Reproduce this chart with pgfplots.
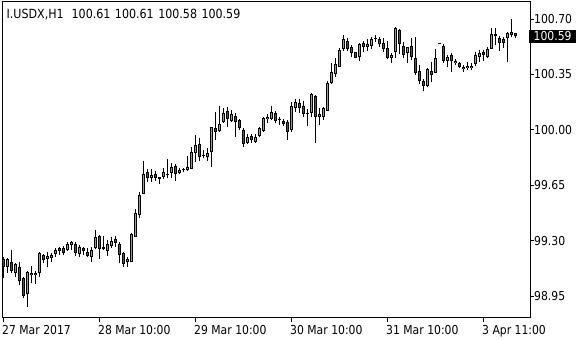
\documentclass[border=0pt]{standalone}
\usepackage{fontspec}
\setmainfont{DejaVu Sans}[FakeStretch=0.88]
\usepackage{pgfplots}
\usepackage{pgfplotstable}
\pgfplotsset{compat=1.18}
\definecolor{upc}{RGB}{40,230,40}
\definecolor{dnc}{RGB}{225,20,20}
\pgfplotstableread{
i o h l c
1 99.182 99.198 99.062 99.131
2 99.135 99.192 99.094 99.182
3 99.167 99.241 99.094 99.110
4 99.097 99.157 99.072 99.150
5 99.135 99.163 99.020 99.047
6 99.062 99.072 98.936 98.952
7 98.961 99.110 98.883 99.100
8 99.094 99.140 99.030 99.081
9 99.094 99.110 99.026 99.081
10 99.094 99.230 99.072 99.220
11 99.209 99.215 99.157 99.178
12 99.186 99.230 99.135 99.203
13 99.188 99.220 99.167 99.209
14 99.215 99.251 99.198 99.241
15 99.251 99.262 99.209 99.234
16 99.251 99.268 99.209 99.224
17 99.241 99.293 99.236 99.279
18 99.270 99.298 99.241 99.289
19 99.279 99.293 99.203 99.224
20 99.215 99.272 99.198 99.262
21 99.251 99.262 99.209 99.236
22 99.230 99.251 99.195 99.203
23 99.198 99.262 99.167 99.241
24 99.251 99.367 99.245 99.325
25 99.329 99.336 99.182 99.247
26 99.262 99.329 99.241 99.249
27 99.236 99.304 99.203 99.279
28 99.268 99.321 99.251 99.300
29 99.308 99.329 99.262 99.287
30 99.279 99.293 99.157 99.209
31 99.220 99.230 99.131 99.150
32 99.163 99.198 99.135 99.182
33 99.167 99.346 99.165 99.340
34 99.325 99.498 99.325 99.476
35 99.464 99.609 99.445 99.588
36 99.593 99.803 99.593 99.721
37 99.732 99.751 99.672 99.694
38 99.697 99.751 99.672 99.715
39 99.721 99.740 99.677 99.694
40 99.691 99.700 99.656 99.700
41 99.700 99.761 99.687 99.732
42 99.717 99.814 99.694 99.723
43 99.729 99.788 99.694 99.763
44 99.771 99.782 99.679 99.719
45 99.729 99.757 99.721 99.746
46 99.748 99.759 99.735 99.754
47 99.746 99.835 99.742 99.767
48 99.751 99.891 99.751 99.858
49 99.852 99.967 99.799 99.904
50 99.910 99.946 99.803 99.830
51 99.842 99.872 99.820 99.836
52 99.830 99.887 99.803 99.855
53 99.858 100.016 99.767 100.016
54 100.010 100.114 99.936 99.988
55 99.994 100.150 99.984 100.037
56 100.047 100.136 100.041 100.104
57 100.119 100.146 100.020 100.066
58 100.058 100.125 100.051 100.098
59 100.087 100.104 99.956 100.047
60 100.060 100.068 99.999 100.010
61 99.999 100.010 99.890 99.910
62 99.919 99.972 99.910 99.956
63 99.963 99.972 99.919 99.936
64 99.925 99.972 99.919 99.956
65 99.963 100.020 99.956 100.010
66 99.994 100.083 99.988 100.077
67 100.066 100.100 100.041 100.083
68 100.066 100.150 100.062 100.114
69 100.104 100.121 100.041 100.058
70 100.068 100.079 100.030 100.062
71 100.058 100.066 100.024 100.035
72 100.047 100.062 99.936 99.988
73 99.999 100.178 99.988 100.150
74 100.136 100.193 100.114 100.178
75 100.171 100.193 100.108 100.136
76 100.150 100.179 100.083 100.098
77 100.108 100.130 100.024 100.102
78 100.109 100.234 100.083 100.226
79 100.214 100.220 99.919 100.083
80 100.081 100.136 100.030 100.100
81 100.083 100.144 100.062 100.136
82 100.121 100.308 100.121 100.298
83 100.298 100.424 100.289 100.367
84 100.351 100.452 100.335 100.416
85 100.399 100.515 100.399 100.504
86 100.509 100.599 100.500 100.572
87 100.561 100.578 100.500 100.509
88 100.521 100.536 100.462 100.483
89 100.490 100.493 100.452 100.452
90 100.458 100.550 100.437 100.540
91 100.550 100.563 100.490 100.521
92 100.525 100.572 100.500 100.542
93 100.529 100.584 100.509 100.572
94 100.576 100.599 100.557 100.582
95 100.572 100.584 100.521 100.540
96 100.550 100.578 100.490 100.509
97 100.519 100.563 100.445 100.456
98 100.452 100.487 100.424 100.473
99 100.490 100.648 100.452 100.641
100 100.630 100.635 100.479 100.542
101 100.529 100.557 100.452 100.473
102 100.483 100.525 100.420 100.521
103 100.529 100.578 100.441 100.458
104 100.452 100.584 100.346 100.361
105 100.373 100.409 100.289 100.310
106 100.308 100.319 100.245 100.275
107 100.279 100.389 100.272 100.382
108 100.371 100.430 100.300 100.346
109 100.361 100.510 100.357 100.452
110 100.541 100.547 100.541 100.547
111 100.529 100.542 100.424 100.437
112 100.435 100.473 100.399 100.462
113 100.473 100.487 100.367 100.435
114 100.420 100.445 100.409 100.437
115 100.424 100.430 100.389 100.399
116 100.399 100.409 100.367 100.384
117 100.389 100.430 100.378 100.403
118 100.389 100.420 100.378 100.403
119 100.414 100.493 100.403 100.473
120 100.458 100.504 100.430 100.487
121 100.493 100.504 100.435 100.473
122 100.458 100.525 100.452 100.509
123 100.510 100.641 100.509 100.605
124 100.605 100.641 100.536 100.593
125 100.578 100.593 100.498 100.550
126 100.572 100.588 100.519 100.550
127 100.578 100.620 100.430 100.613
128 100.620 100.698 100.588 100.599
129 100.610 100.612 100.580 100.590
}\ohlc
\pgfplotsset{
  candle/.style={draw=none, mark=none, forget plot,
    error bars/.cd, y dir=plus, y explicit, error mark=none,
    error bar style={#1}},
}
\begin{document}
\fontsize{12.3bp}{14bp}\selectfont
\begin{tikzpicture}
\useasboundingbox (0,0) rectangle (580bp,340bp);
\begin{axis}[
  at={(2bp,22.5bp)}, anchor=south west,
  scale only axis, width=528bp, height=316bp,
  xmin=0.625, xmax=132.625, ymin=98.8143, ymax=100.8106,
  clip=false,
  axis line style={black, line width=1bp},
  xtick={1,25,49,73,97,121},
  xticklabels={27 Mar 2017,28 Mar 10:00,29 Mar 10:00,30 Mar 10:00,31 Mar 10:00,3 Apr 11:00},
  ytick={98.95,99.30,99.65,100.00,100.35,100.70},
  yticklabels={98.95,99.30,99.65,100.00,100.35,100.70},
  xtick pos=left, ytick pos=right, yticklabel pos=right,
  tick align=outside, major tick length=4bp,
  tick style={black, line width=1bp},
  xticklabel style={anchor=north west, inner sep=0pt, xshift=-1.5bp, yshift=-3.5bp},
  yticklabel style={anchor=west, inner sep=0pt},
]
% wicks
\addplot[candle={draw=black, line width=1bp, solid}]
  table[x=i, y=l, y error plus expr={\thisrow{h}-\thisrow{l}}] {\ohlc};
% body outlines
\addplot[candle={draw=black, line width=3bp, solid}]
  table[x=i, y expr={min(\thisrow{o},\thisrow{c})}, y error plus expr={abs(\thisrow{c}-\thisrow{o})}] {\ohlc};
% bull fill
\addplot[restrict expr to domain={\thisrow{c}-\thisrow{o}}{0.013:5},
  candle={draw=upc, line width=1bp, solid, shorten <=1bp, shorten >=1bp}]
  table[x=i, y=o, y error plus expr={\thisrow{c}-\thisrow{o}}] {\ohlc};
% bear fill
\addplot[restrict expr to domain={\thisrow{c}-\thisrow{o}}{-5:-0.013},
  candle={draw=dnc, line width=1bp, solid, shorten <=1bp, shorten >=1bp}]
  table[x=i, y=c, y error plus expr={\thisrow{o}-\thisrow{c}}] {\ohlc};
\node[anchor=base west, inner sep=0pt, font=\fontsize{12.6bp}{14bp}\selectfont]
  at ([xshift=4.5bp, yshift=-17.5bp]rel axis cs:0,1)
  {I.USDX,H1\hspace{8bp}100.61\hspace{4.5bp}100.61\hspace{4.5bp}100.58\hspace{4.5bp}100.59};
\node[anchor=west, fill=black, text=white, inner xsep=4.5bp, inner ysep=0pt, minimum height=13.5bp]
  at ([xshift=-1bp]axis cs:132.625,100.59) {100.59};
\end{axis}
\end{tikzpicture}
\end{document}
